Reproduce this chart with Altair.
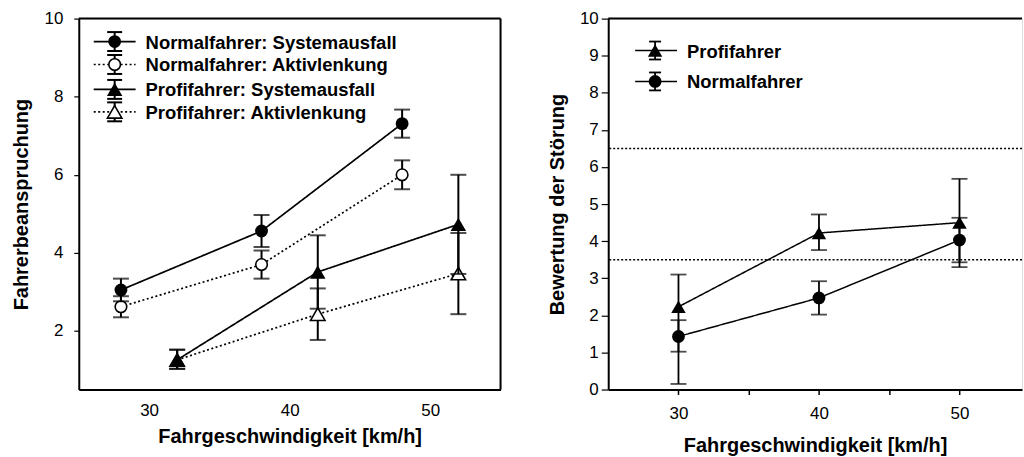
import altair as alt
import pandas as pd

FONT = "Liberation Sans"

# ---------------- data: left panel ----------------
left_series = [
    "Normalfahrer: Systemausfall",
    "Normalfahrer: Aktivlenkung",
    "Profifahrer: Systemausfall",
    "Profifahrer: Aktivlenkung",
]
left_speed = [[28, 38, 48], [28, 38, 48], [32, 42, 52], [32, 42, 52]]
left_mean = [[3.05, 4.56, 7.31], [2.62, 3.70, 6.00], [1.26, 3.51, 4.73], [1.26, 2.43, 3.47]]
left_low = [[2.76, 4.15, 6.95], [2.35, 3.34, 5.63], [1.03, 2.57, 3.46], [1.03, 1.77, 2.43]]
left_high = [[3.34, 4.97, 7.67], [2.89, 4.06, 6.37], [1.52, 4.45, 6.00], [1.52, 3.09, 4.51]]
left_yticks = [2, 4, 6, 8, 10]
left_xticks = [30, 40, 50]

# ---------------- data: right panel ----------------
right_series = ["Profifahrer", "Normalfahrer"]
right_speed = [[30, 40, 50], [30, 40, 50]]
right_mean = [[2.23, 4.22, 4.50], [1.43, 2.47, 4.03]]
right_low = [[0.15, 3.76, 3.30], [1.02, 2.02, 3.43]]
right_high = [[3.10, 4.72, 5.68], [1.87, 2.92, 4.63]]
right_refs = [3.5, 6.5]
right_yticks = [0, 1, 2, 3, 4, 5, 6, 7, 8, 9, 10]
right_xticks = [30, 35, 40, 45, 50]

# style per series: (shape, filled, dashed)
left_style = [("circle", True, False), ("circle", False, True),
              ("triangle-up", True, False), ("triangle-up", False, True)]
right_style = [("triangle-up", True, False), ("circle", True, False)]

LW, LH = 423, 372
RW, RH = 415, 372
DOT = [2, 2.5]


def one_row():
    return pd.DataFrame({"k": [0]})


def make_df(names, speeds, means, lows, highs):
    rows = []
    for n, s, m, lo, hi in zip(names, speeds, means, lows, highs):
        for a, b, c, d in zip(s, m, lo, hi):
            rows.append({"series": n, "speed": a, "mean": b, "low": c, "high": d})
    return pd.DataFrame(rows)


def psize(shape, filled, size_c, size_t):
    if shape == "circle":
        return size_c if filled else size_c - 30
    return size_t if filled else size_t - 30


def panel(names, speeds, means, lows, highs, styles, xenc, yenc,
          cap, lw, psize_c, psize_t, legend_rows, leg_line, leg_marker_x, leg_text_x, leg_cap, leg_half):
    df = make_df(names, speeds, means, lows, highs)
    layers = []
    order = list(range(len(names)))[::-1]
    for i in order:
        name = names[i]
        shape, filled, dashed = styles[i]
        base = alt.Chart(df).transform_filter(alt.datum.series == name)
        dash = DOT if dashed else [1, 0]
        layers.append(base.mark_rule(color="black", strokeWidth=lw + 0.3).encode(
            x=xenc("speed"), y=yenc("low"), y2="high:Q"))
        layers.append(base.mark_tick(orient="horizontal", size=cap, thickness=lw + 0.3, color="black").encode(
            x=xenc("speed"), y=yenc("low")))
        layers.append(base.mark_tick(orient="horizontal", size=cap, thickness=lw + 0.3, color="black").encode(
            x=xenc("speed"), y=yenc("high")))
        layers.append(base.mark_line(color="black", strokeWidth=lw, strokeDash=dash).encode(
            x=xenc("speed"), y=yenc("mean")))
        layers.append(base.mark_point(shape=shape, filled=filled,
                                      size=psize(shape, filled, psize_c, psize_t), opacity=1,
                                      color="black", fill="black" if filled else "white",
                                      strokeWidth=1.6).encode(
            x=xenc("speed"), y=yenc("mean")))
    # legend
    for i, name in enumerate(names):
        shape, filled, dashed = styles[i]
        yy = legend_rows[i]
        dash = DOT if dashed else [1, 0]
        src = alt.Chart(pd.DataFrame({"label": [name]}))
        layers.append(src.mark_rule(color="black", strokeWidth=lw, strokeDash=dash).encode(
            x=alt.value(leg_line[0]), x2=alt.value(leg_line[1]), y=alt.value(yy)))
        layers.append(src.mark_rule(color="black", strokeWidth=lw + 0.3).encode(
            x=alt.value(leg_marker_x), y=alt.value(yy - leg_half), y2=alt.value(yy + leg_half)))
        for s in (-1, 1):
            layers.append(src.mark_rule(color="black", strokeWidth=lw + 0.3).encode(
                x=alt.value(leg_marker_x - leg_cap / 2), x2=alt.value(leg_marker_x + leg_cap / 2),
                y=alt.value(yy + s * leg_half)))
        layers.append(src.mark_point(shape=shape, filled=filled,
                                     size=psize(shape, filled, psize_c, psize_t), opacity=1,
                                     color="black", fill="black" if filled else "white",
                                     strokeWidth=1.6).encode(
            x=alt.value(leg_marker_x), y=alt.value(yy)))
        layers.append(src.mark_text(align="left", baseline="middle", font=FONT, fontSize=18.5,
                                    fontWeight="bold", color="black").encode(
            x=alt.value(leg_text_x), y=alt.value(yy + 1), text="label:N"))
    return layers


# ---------------- left panel ----------------
lx_scale = alt.Scale(domain=[25, 55], nice=False, zero=False)
ly_scale = alt.Scale(domain=[0.5, 10], nice=False, zero=False)
lx_axis = alt.Axis(values=left_xticks, title="Fahrgeschwindigkeit [km/h]", ticks=False,
                   domain=True, domainColor="black", domainWidth=2, grid=False,
                   labelFontSize=17, labelPadding=13, titleFontSize=20, titlePadding=8,
                   format="d")
ly_axis = alt.Axis(values=left_yticks, title="Fahrerbeanspruchung", ticks=True, tickSize=5,
                   tickColor="black", tickWidth=1.2, domain=True, domainColor="black",
                   domainWidth=2, grid=False, labelFontSize=17, labelPadding=11,
                   titleFontSize=20, titlePadding=13, format="d")


def lx(f):
    return alt.X(f"{f}:Q", scale=lx_scale, axis=lx_axis)


def ly(f):
    return alt.Y(f"{f}:Q", scale=ly_scale, axis=ly_axis)


left_layers = panel(left_series, left_speed, left_mean, left_low, left_high, left_style,
                    lx, ly, cap=16, lw=1.7, psize_c=165, psize_t=240,
                    legend_rows=[23, 46, 71, 93.5], leg_line=(15, 57), leg_marker_x=36,
                    leg_text_x=67, leg_cap=15, leg_half=9.5)
frame_left = [
    alt.Chart(one_row()).mark_rule(color="black", strokeWidth=2).encode(
        x=alt.value(0), x2=alt.value(LW), y=alt.value(0)),
    alt.Chart(one_row()).mark_rule(color="black", strokeWidth=2).encode(
        x=alt.value(LW), y=alt.value(0), y2=alt.value(LH)),
]
left = alt.layer(*(frame_left + left_layers)).properties(width=LW, height=LH)

# ---------------- right panel ----------------
rx_scale = alt.Scale(domain=[25, 54.45], nice=False, zero=False)
ry_scale = alt.Scale(domain=[0, 10], nice=False, zero=False)
rx_axis = alt.Axis(values=right_xticks, title="Fahrgeschwindigkeit [km/h]", ticks=True, tickSize=5,
                   tickColor="black", tickWidth=1.5, domain=True, domainColor="black",
                   domainWidth=2, grid=False, labelFontSize=17, labelPadding=11,
                   labelExpr="datum.value % 10 == 0 ? datum.label : ''",
                   titleFontSize=20, titlePadding=14, format="d")
ry_axis = alt.Axis(values=right_yticks, title="Bewertung der Störung", ticks=True, tickSize=7,
                   tickColor="black", tickWidth=1.2, domain=True, domainColor="black",
                   domainWidth=2, grid=False, labelFontSize=17, labelPadding=3,
                   titleFontSize=20, titlePadding=12, format="d")


def rx(f):
    return alt.X(f"{f}:Q", scale=rx_scale, axis=rx_axis)


def ry(f):
    return alt.Y(f"{f}:Q", scale=ry_scale, axis=ry_axis)


refs = alt.Chart(pd.DataFrame({"ref": right_refs})).mark_rule(
    color="black", strokeWidth=1.5, strokeDash=[2, 2]).encode(y=ry("ref"))
right_layers = panel(right_series, right_speed, right_mean, right_low, right_high, right_style,
                     rx, ry, cap=16, lw=1.5, psize_c=165, psize_t=210,
                     legend_rows=[32, 63], leg_line=(27, 69), leg_marker_x=47,
                     leg_text_x=79, leg_cap=12, leg_half=9)
frame_right = [
    alt.Chart(one_row()).mark_rule(color="black", strokeWidth=2).encode(
        x=alt.value(0), x2=alt.value(RW), y=alt.value(0)),
]
right = alt.layer(*([refs] + frame_right + right_layers)).properties(width=RW, height=RH)

chart = alt.hconcat(left, right, spacing=44).properties(
    padding={"left": 10, "top": 8, "right": 0, "bottom": 0}
).configure_view(stroke=None).configure_axis(
    labelFont=FONT, titleFont=FONT, labelColor="#111", titleColor="black",
    titleFontWeight="bold"
).configure(background="white")

chart.save("out.html", embed_options={"renderer": "svg", "actions": False})
